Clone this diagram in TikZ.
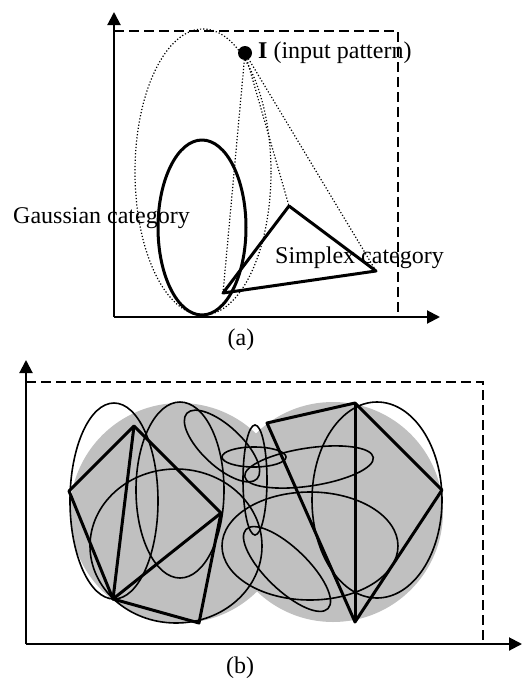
\documentclass[tikz,border=0pt]{standalone}
\usepackage{fontspec}
\setmainfont{Liberation Serif}
\usetikzlibrary{arrows.meta}
\definecolor{blobgray}{RGB}{192,192,192}
\begin{document}
\begin{tikzpicture}[x=1pt,y=-1pt,
  axis/.style={line width=2pt,-{Triangle[length=13pt,width=13pt]}},
  frame/.style={line width=2pt,dash pattern=on 10pt off 5pt},
  cat/.style={line width=3pt,line join=round},
  hull/.style={line width=1.2pt,dotted},
  blob/.style={line width=1.6pt},
  lbl/.style={anchor=base west,inner sep=0pt,font=\fontsize{24}{28}\selectfont}]
\useasboundingbox (0,0) rectangle (526,680);
% (a)
\coordinate (oa) at (114,317);
\coordinate (ya) at (114,12);
\coordinate (xa) at (440,317);
\draw[frame] (114,31) -| (398,317);
\draw[axis] (oa) -- (ya);
\draw[axis] (oa) -- (xa);
\draw[hull] (203,172) ellipse [x radius=68pt,y radius=143pt];
\draw[cat] (202,227.5) ellipse [x radius=44pt,y radius=87.5pt];
\coordinate (s1) at (223,293);
\coordinate (s2) at (289,206);
\coordinate (s3) at (376,271);
\draw[cat] (s1) -- (s2) -- (s3) -- cycle;
\node[circle,fill,inner sep=0pt,minimum size=14pt] (I) at (245,53) {};
\draw[hull] (I.center) -- (s1);
\draw[hull] (I.center) -- (s2);
\draw[hull] (I.center) -- (s3);
\node[lbl] (inp) at (258,58) {\textbf{I} (input pattern)};
\node[lbl] (gcat) at (13,223) {Gaussian category};
\node[lbl] (scat) at (275,263) {Simplex category};
\node[lbl,anchor=base] (capa) at (241,345) {(a)};
% (b)
\coordinate (ob) at (26,644);
\coordinate (yb) at (26,360);
\coordinate (xb) at (522,644);
\fill[blobgray] (180,513) circle [radius=110pt];
\fill[blobgray] (333,512) circle [radius=110pt];
\draw[frame] (26,382) -| (483,644);
\draw[axis] (ob) -- (yb);
\draw[axis] (ob) -- (xb);
\draw[blob] (114,501) ellipse [x radius=44pt,y radius=98pt];
\draw[blob] (180,490) ellipse [x radius=44pt,y radius=88pt];
\draw[blob] (176,546) ellipse [x radius=86pt,y radius=77pt];
\draw[blob,rotate around={-43:(222,446)}] (222,446) ellipse [x radius=48pt,y radius=20pt];
\draw[blob] (254,457) ellipse [x radius=32pt,y radius=10pt];
\draw[blob] (255,480) ellipse [x radius=12pt,y radius=55pt];
\draw[blob,rotate around={8.5:(309,467)}] (309,467) ellipse [x radius=65pt,y radius=19pt];
\draw[blob] (310,546) ellipse [x radius=88pt,y radius=54pt];
\draw[blob,rotate around={-44:(287,569)}] (287,569) ellipse [x radius=57pt,y radius=21pt];
\draw[blob] (377,500) ellipse [x radius=65pt,y radius=98pt];
\coordinate (p1) at (69,491);
\coordinate (p2) at (134,426);
\coordinate (p3) at (221,513);
\coordinate (p4) at (113,599);
\coordinate (p5) at (199,623);
\draw[cat] (p1) -- (p2) -- (p3) -- (p5) -- (p4) -- cycle;
\draw[cat] (p2) -- (p4) -- (p3);
\coordinate (q1) at (267,423);
\coordinate (q2) at (355,403);
\coordinate (q3) at (442,490);
\coordinate (q4) at (355,622);
\draw[cat] (q1) -- (q2) -- (q3) -- (q4) -- cycle;
\draw[cat] (q2) -- (q4);
\node[lbl,anchor=base] (capb) at (240,673) {(b)};
\end{tikzpicture}
\end{document}
